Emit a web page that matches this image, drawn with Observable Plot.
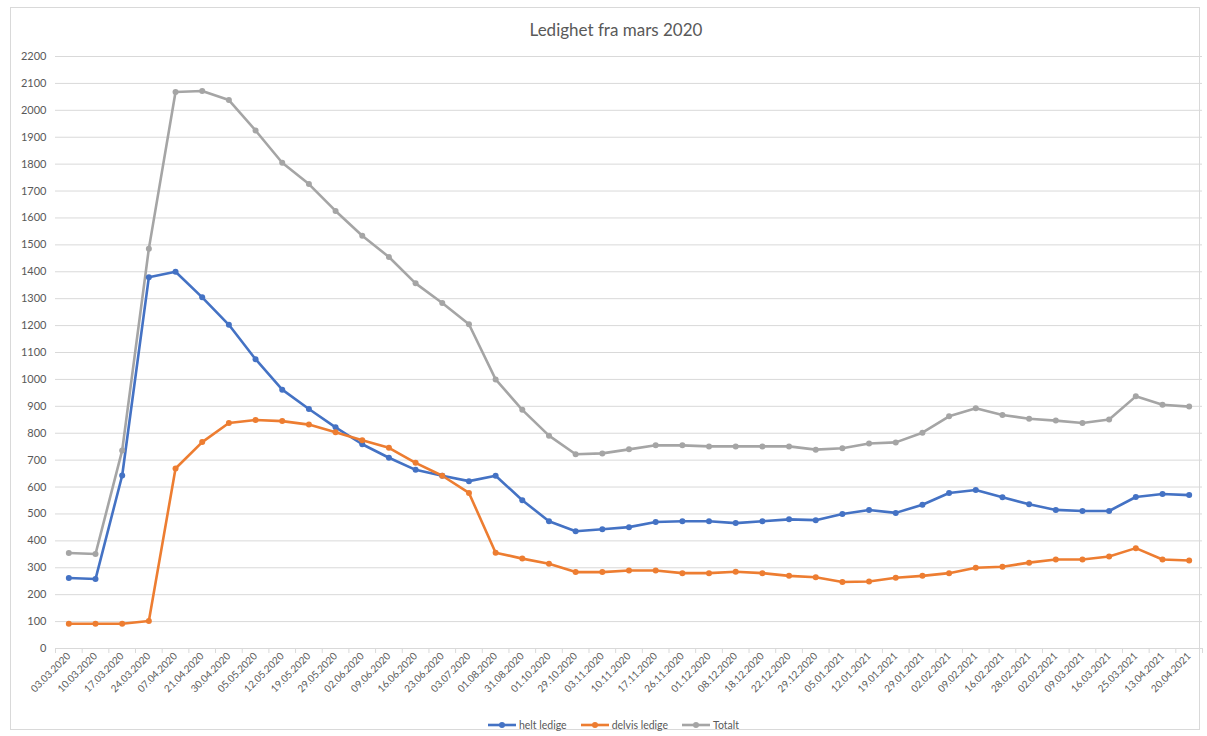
<!DOCTYPE html>
<html>
<head>
<meta charset="utf-8">
<script src="https://cdn.jsdelivr.net/npm/d3@7"></script>
<script src="https://cdn.jsdelivr.net/npm/@observablehq/plot@0.6"></script>
<style>
  html, body { margin: 0; padding: 0; background: #fff; }
  body { width: 1207px; height: 736px; position: relative; overflow: hidden; font-family: Lato, "Open Sans", sans-serif; }
  #frame { position: absolute; left: 10px; top: 7px; width: 1190px; height: 723px; border: 1px solid #d9d9d9; box-sizing: border-box; }
  #title { position: absolute; left: 25px; top: 19px; width: 1182px; text-align: center; font-size: 17px; color: #595959; }
  #plot { position: absolute; left: 0; top: 40px; }
  #legend { position: absolute; left: 10px; top: 719px; width: 1207px; display: flex; justify-content: center; gap: 14px; font-size: 10.5px; color: #595959; }
  .item { display: flex; align-items: center; gap: 3px; }
</style>
</head>
<body>
<div id="frame"></div>
<div id="title">Ledighet fra mars 2020</div>
<div id="plot"></div>
<div id="legend"></div>
<script>
const dates = ["03.03.2020","10.03.2020","17.03.2020","24.03.2020","07.04.2020","21.04.2020","30.04.2020","05.05.2020","12.05.2020","19.05.2020","29.05.2020","02.06.2020","09.06.2020","16.06.2020","23.06.2020","03.07.2020","01.08.2020","31.08.2020","01.10.2020","29.10.2020","03.11.2020","10.11.2020","17.11.2020","26.11.2020","01.12.2020","08.12.2020","18.12.2020","22.12.2020","29.12.2020","05.01.2021","12.01.2021","19.01.2021","29.01.2021","02.02.2021","09.02.2021","16.02.2021","28.02.2021","02.02.2021","09.03.2021","16.03.2021","25.03.2021","13.04.2021","20.04.2021"];
const heltLedige = [262,258,643,1380,1400,1305,1203,1075,962,890,822,759,709,664,642,622,642,551,473,436,443,451,470,473,473,466,473,480,477,500,515,504,534,578,589,562,536,515,511,511,563,574,570];
const delvisLedige = [92,92,92,102,669,767,838,849,845,832,804,774,746,690,642,578,356,334,315,284,284,290,290,280,280,285,280,270,265,247,249,263,270,280,300,304,319,331,331,342,373,331,327];
const totalt = [355,351,736,1486,2068,2072,2038,1925,1805,1726,1626,1534,1455,1357,1284,1205,1000,887,791,722,725,740,755,755,751,751,751,751,739,744,762,766,802,863,893,868,854,847,838,851,937,906,899];
const seriesNames = ["helt ledige", "delvis ledige", "Totalt"];
const seriesColors = ["#4472C4", "#ED7D31", "#A5A5A5"];
const yTicks = d3.range(0, 2201, 100);

const seriesValues = [heltLedige, delvisLedige, totalt];
const data = seriesValues.flatMap((vals, s) => vals.map((v, i) => ({series: seriesNames[s], i: i + 0.5, value: v})));
const n = dates.length;

const plot = Plot.plot({
  width: 1207,
  height: 672,
  marginLeft: 55,
  marginRight: 5,
  marginTop: 16,
  marginBottom: 64,
  style: {fontFamily: "Lato, 'Open Sans', sans-serif", color: "#595959", background: "transparent"},
  x: {domain: [0, n], axis: null, label: null},
  y: {domain: [0, 2200], axis: null, label: null},
  color: {domain: seriesNames, range: seriesColors},
  marks: [
    Plot.gridY(yTicks, {stroke: "#d9d9d9", strokeOpacity: 1, strokeWidth: 1}),
    Plot.axisY(yTicks, {tickSize: 0, tickPadding: 9, fontSize: 11, fill: "#595959", label: null, tickFormat: d => String(d)}),
    Plot.ruleY([0], {stroke: "#d9d9d9", strokeWidth: 1}),
    Plot.axisX(d3.range(0, n + 1), {tickSize: 5, stroke: "#d9d9d9", strokeOpacity: 1, label: null, tickFormat: () => ""}),
    Plot.axisX(d3.range(n).map(i => i + 0.5), {tickSize: 0, tickPadding: 6, tickRotate: -45, fontSize: 10, fill: "#595959", label: null, tickFormat: d => dates[Math.floor(d)]}),
    Plot.line(data, {x: "i", y: "value", z: "series", stroke: "series", strokeWidth: 2.6, strokeLinejoin: "round"}),
    Plot.dot(data, {x: "i", y: "value", fill: "series", r: 3, stroke: "none"})
  ]
});
document.getElementById("plot").appendChild(plot);

const legend = document.getElementById("legend");
seriesNames.forEach((name, k) => {
  const item = document.createElement("div");
  item.className = "item";
  item.innerHTML = `<svg width="28" height="8"><line x1="0" y1="4" x2="28" y2="4" stroke="${seriesColors[k]}" stroke-width="2.6"/><circle cx="14" cy="4" r="3" fill="${seriesColors[k]}"/></svg><span>${name}</span>`;
  legend.appendChild(item);
});
</script>
</body>
</html>
